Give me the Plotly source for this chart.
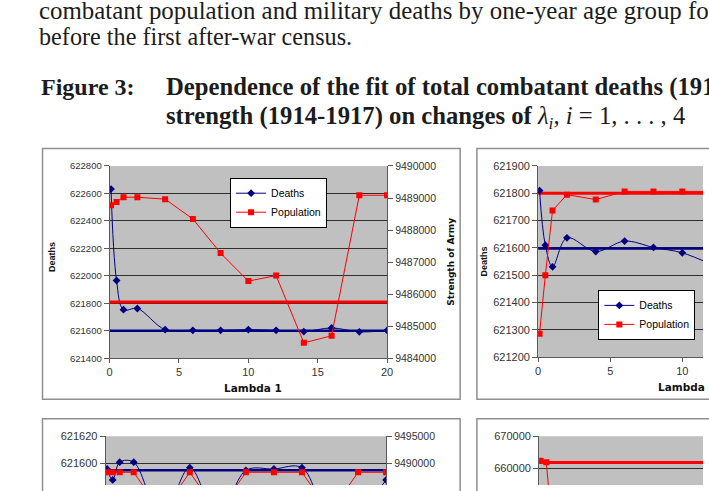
import plotly.graph_objects as go

W, H = 709, 491

# ---------------- data ----------------
lam = [0.1, 0.5, 1, 2, 4, 6, 8, 10, 12, 14, 16, 18, 20]
x_ticks = [0, 5, 10, 15, 20]

# Panel 1 (Lambda 1)
p1_deaths = [622632, 621966, 621753, 621762, 621608, 621603, 621603, 621608,
             621603, 621594, 621620, 621592, 621602]
p1_pop = [9488772, 9488873, 9489025, 9489025, 9488964, 9488346, 9487280,
          9486406, 9486579, 9484478, 9484700, 9489086, 9489086]
p1_target_deaths = 621600
p1_target_pop = 9485757

# Panel 2 (Lambda 2) - only the visible part
lam2 = [0.1, 0.5, 1, 2, 4, 6, 8, 10, 12]
p2_deaths = [621810, 621610, 621531, 621637, 621587, 621625, 621602, 621582, 621540]
p2_pop = [621286, 621500, 621737, 621795, 621777, 621807, 621807, 621807, 621807]
p2_target_deaths = 621598
p2_target_pop = 621800

# Panel 3 (Lambda 3)
p3_deaths = [621596, 621588, 621601, 621601, 621560, 621597, 621560, 621595,
             621596, 621597, 621560, 621565, 621588]
p3_pop = [9488400, 9488400, 9488400, 9488400, 9481000, 9488400, 9481000,
          9488400, 9488400, 9488400, 9481000, 9488400, 9488400]
p3_target_deaths = 621595

# Panel 4 (Lambda 4)
lam4 = [0.1, 0.5, 1]
p4_pop = [662400, 661900, 637000]
p4_target_pop = 661800

# ---------------- styling ----------------
NAVY = "#000080"
RED = "#FF0000"
SANS = "Liberation Sans, Arial, sans-serif"
SERIF = "Liberation Serif, Times New Roman, serif"
AX = "#5a5a5a"


def xd(a, b):
    return [a / W, min(b / W, 1.0)]


def yd(top, bottom):
    return [max(1 - bottom / H, 0.0), 1 - top / H]


def px(v):
    return v / W


def py(v):
    return 1 - v / H


fig = go.Figure()


def target_trace(val, xa, ya, color, width):
    return go.Scatter(x=[x_ticks[0], x_ticks[-1]], y=[val, val], xaxis=xa, yaxis=ya,
                      mode="lines", line=dict(color=color, width=width),
                      showlegend=False, hoverinfo="skip")


def deaths_trace(x, y, xa, ya, legend="legend", show=False):
    return go.Scatter(x=x, y=y, xaxis=xa, yaxis=ya, name="Deaths",
                      mode="lines+markers",
                      line=dict(color=NAVY, width=1, shape="spline", smoothing=1),
                      marker=dict(symbol="diamond", size=6, color=NAVY),
                      showlegend=show, legend=legend)


def pop_trace(x, y, xa, ya, legend="legend", show=False):
    return go.Scatter(x=x, y=y, xaxis=xa, yaxis=ya, name="Population",
                      mode="lines+markers",
                      line=dict(color=RED, width=1),
                      marker=dict(symbol="square", size=6, color=RED),
                      showlegend=show, legend=legend)


# reference (target) lines first so that the series lie on top
fig.add_trace(target_trace(p1_target_pop, "x", "y2", RED, 3))
fig.add_trace(target_trace(p1_target_deaths, "x", "y", NAVY, 2.5))
fig.add_trace(target_trace(p2_target_pop, "x2", "y3", RED, 3))
fig.add_trace(target_trace(p2_target_deaths, "x2", "y3", NAVY, 2.5))
fig.add_trace(target_trace(p3_target_deaths, "x3", "y4", NAVY, 2.5))
fig.add_trace(target_trace(p4_target_pop, "x4", "y6", RED, 3))

# panel 1
fig.add_trace(deaths_trace(lam, p1_deaths, "x", "y", "legend", True))
fig.add_trace(pop_trace(lam, p1_pop, "x", "y2", "legend", True))
# panel 2
fig.add_trace(deaths_trace(lam2, p2_deaths, "x2", "y3", "legend2", True))
fig.add_trace(pop_trace(lam2, p2_pop, "x2", "y3", "legend2", True))
# panel 3
fig.add_trace(deaths_trace(lam, p3_deaths, "x3", "y4"))
fig.add_trace(pop_trace(lam, p3_pop, "x3", "y5"))
# panel 4
fig.add_trace(pop_trace(lam4, p4_pop, "x4", "y6"))

# chart-area borders (Excel chart objects)
shapes = []
BORDER = "#8f8f8f"
for (l, t, r, b) in [(40, 146, 463, 403), (480, 146, 760, 403),
                     (40, 423, 463, 560), (480, 423, 760, 560)]:
    shapes.append(dict(type="rect", xref="paper", yref="paper",
                       x0=px(l), x1=px(r), y0=py(b), y1=py(t), layer="below",
                       line=dict(color=BORDER, width=1.5)))


def xaxis(domain, rng, anchor, visible_bottom=True, fs=11):
    return dict(domain=domain, range=rng, anchor=anchor,
                tickvals=x_ticks, showline=visible_bottom, linecolor=AX,
                ticks="outside" if visible_bottom else "", ticklen=4, tickcolor=AX,
                showticklabels=visible_bottom,
                showgrid=False, zeroline=False,
                tickfont=dict(family=SANS, size=fs, color="#333333"))


def yaxis(domain, rng, dtick, anchor, fs):
    return dict(domain=domain, range=rng, dtick=dtick, tick0=rng[1], anchor=anchor,
                showline=True, linecolor=AX, ticks="outside", ticklen=5,
                tickcolor=AX, showgrid=True, gridcolor="#2e2e2e", gridwidth=1,
                zeroline=False, tickformat="d",
                tickfont=dict(family=SANS, size=fs, color="#333333"))


def yaxis_right(rng, dtick, anchor, overlay, fs):
    return dict(range=rng, dtick=dtick, tick0=rng[1], anchor=anchor,
                overlaying=overlay, side="right",
                showline=True, linecolor=AX, ticks="outside", ticklen=5,
                tickcolor=AX, showgrid=False, zeroline=False, tickformat="d",
                tickfont=dict(family=SANS, size=fs, color="#333333"))


EPS = 0.001
k2 = 73 / 5.0   # px per lambda unit in right-hand panels
layout_axes = dict(
    xaxis=xaxis(xd(108, 389), [0, 20], "y"),
    yaxis=yaxis(yd(164, 361), [621400, 622800 + EPS], 200, "x", 9.5),
    yaxis2=yaxis_right([9484000, 9490000 + EPS], 1000, "x", "y", 10.5),

    xaxis2=xaxis(xd(542, 709), [0, (709 - 542) / k2], "y3"),
    yaxis3=yaxis(yd(164, 360), [621200, 621900 + EPS], 100, "x2", 11),

    xaxis3=xaxis(xd(104, 388), [0, 20], "y4", visible_bottom=False),
    yaxis4=yaxis(yd(441, 491), [621620 - 50 / 1.4, 621620 + EPS], 20, "x3", 11),
    yaxis5=yaxis_right([9495000 - 50 * 5000 / 28, 9495000 + EPS], 5000, "x3", "y4", 10.5),

    xaxis4=xaxis(xd(543, 709), [0, (709 - 543) / k2], "y6", visible_bottom=False),
    yaxis6=yaxis(yd(441, 491), [670000 - 50 * 10000 / 33, 670000 + EPS], 10000, "x4", 11),
)

annotations = []


def text(x, y, s, size, family=SERIF, color="#1c1c1c", anchor="left", angle=0):
    annotations.append(dict(xref="paper", yref="paper", x=px(x), y=py(y),
                            xanchor=anchor, yanchor="middle", text=s,
                            showarrow=False, textangle=angle,
                            font=dict(family=family, size=size, color=color)))


# page text
text(34, 4.5, "combatant population and military deaths by one-year age group for the", 24.9)
text(34, 31, "before the first after-war census.", 24.2)
text(36, 83.5, "<b>Figure 3:</b>", 24.0)
text(163, 83.5, "<b>Dependence of the fit of total combatant deaths (1914-1917) and army</b>", 24.7)
text(163, 114.5, "<b>strength (1914-1917) on changes of </b><i>λ<sub>i</sub></i>, <i>i</i> = 1, . . . , 4", 24.7)

# axis titles
text(49, 257, "<b>Deaths</b>", 9, family=SANS, color="#111111", anchor="center", angle=-90)
text(453, 262, "<b>Strength of Army</b>", 9, family="DejaVu Sans, sans-serif", color="#111111",
     anchor="center", angle=-90)
text(253, 392, "<b>Lambda 1</b>", 10.5, family="DejaVu Sans, sans-serif", color="#111111",
     anchor="center")
text(487, 262, "<b>Deaths</b>", 9, family=SANS, color="#111111", anchor="center", angle=-90)
text(693, 391, "<b>Lambda 2</b>", 10.5, family="DejaVu Sans, sans-serif", color="#111111",
     anchor="center")

legend_style = dict(xanchor="left", yanchor="top", bgcolor="white",
                    bordercolor="black", borderwidth=1, itemwidth=30,
                    font=dict(family=SANS, size=10.5, color="black"),
                    tracegroupgap=0)

fig.update_layout(
    width=W, height=H, margin=dict(l=0, r=0, t=0, b=0),
    paper_bgcolor="white", plot_bgcolor="#C0C0C0",
    showlegend=True,
    legend=dict(x=px(230), y=py(176), **legend_style),
    legend2=dict(x=px(603), y=py(291), **legend_style),
    shapes=shapes, annotations=annotations,
    **layout_axes,
)

fig.write_html("out.html")
